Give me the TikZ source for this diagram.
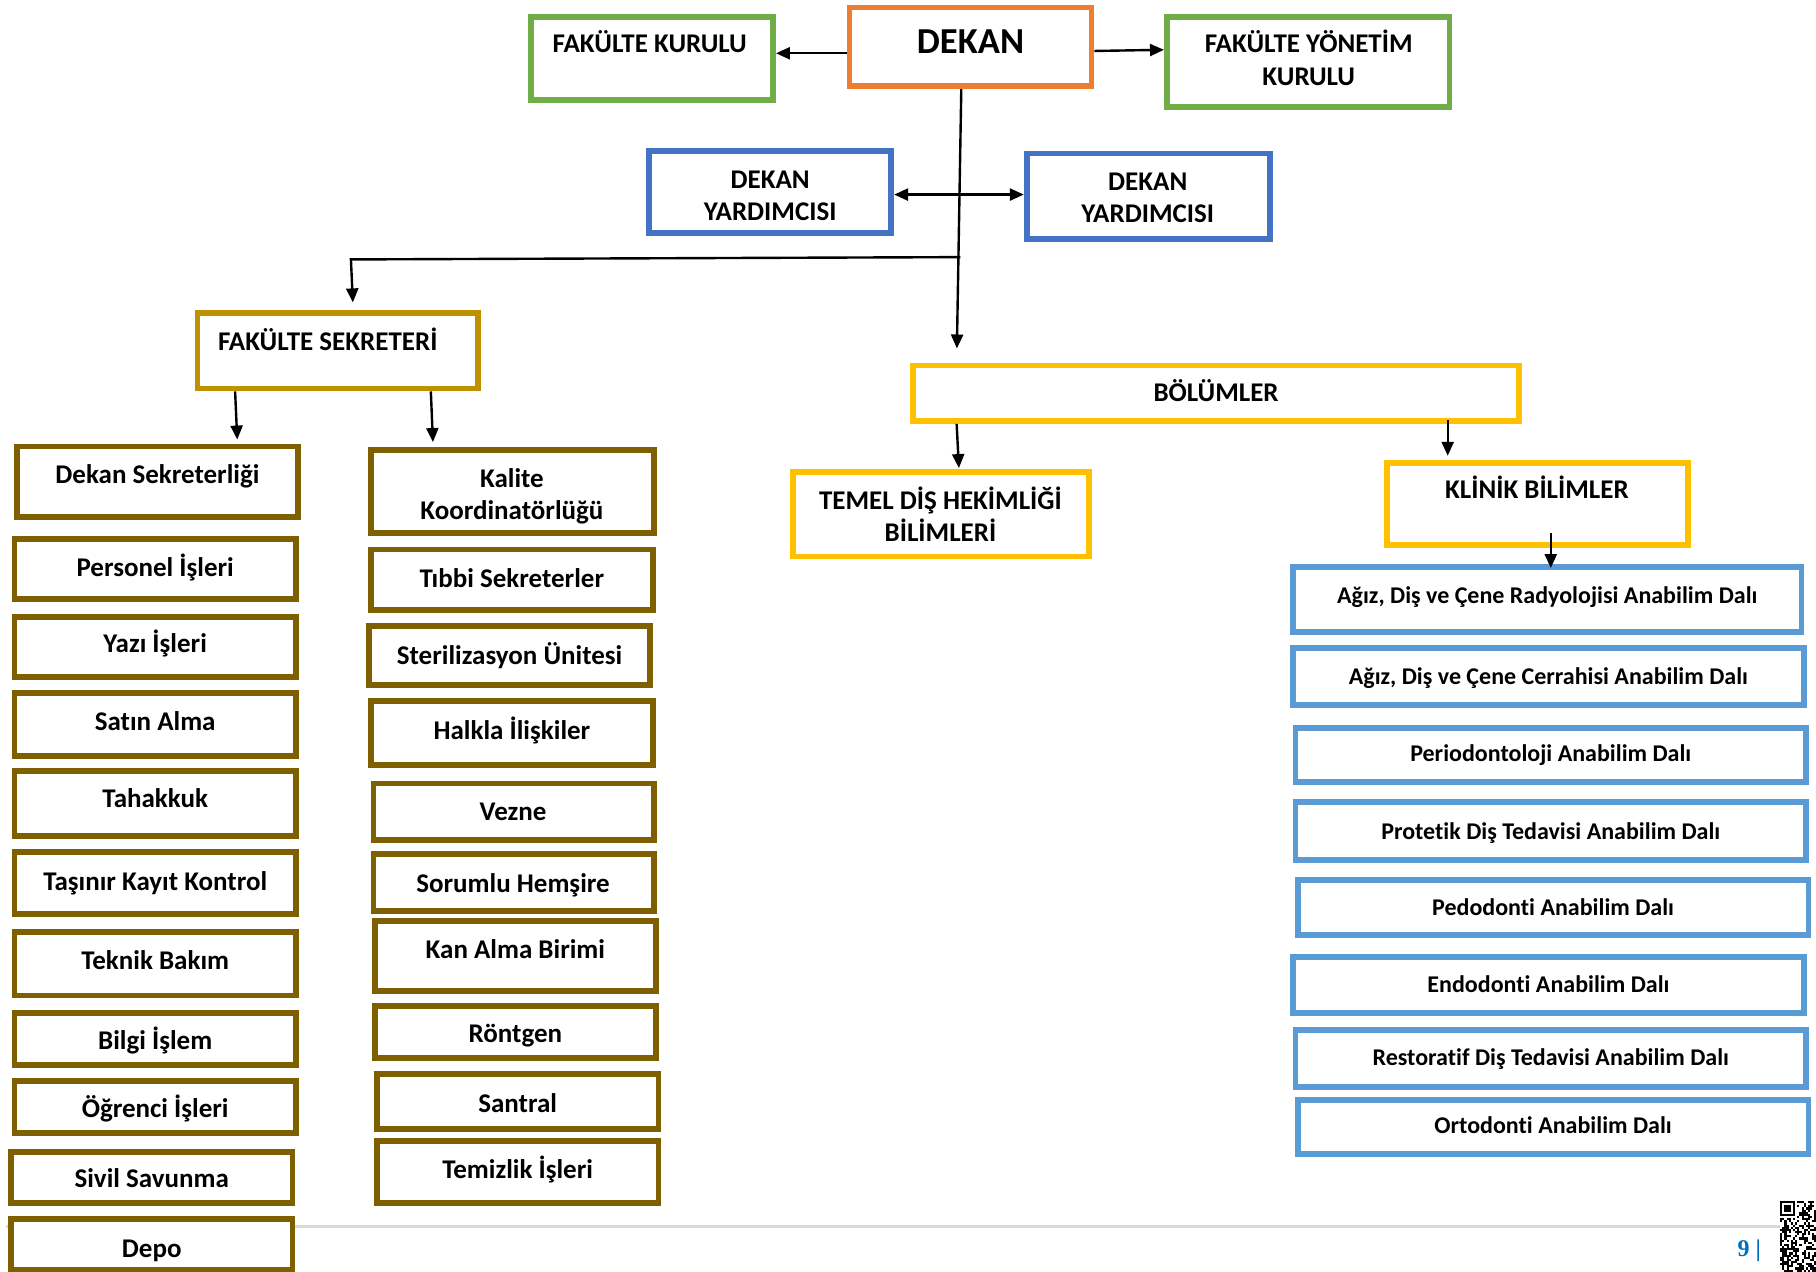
\documentclass[tikz,border=0pt]{standalone}
\usepackage{fontspec}
\setmainfont{Carlito}[Ligatures={NoCommon}]
\newfontfamily\pgnumfont{Liberation Serif}
\usetikzlibrary{arrows.meta,fit}
\definecolor{cgreen}{HTML}{70AD47}
\definecolor{corange}{HTML}{ED7D31}
\definecolor{cdblue}{HTML}{4472C4}
\definecolor{clblue}{HTML}{5B9BD5}
\definecolor{cyellow}{HTML}{FFC000}
\definecolor{cgold}{HTML}{BF9000}
\definecolor{cbrown}{HTML}{7F6000}
\definecolor{cpage}{HTML}{0070C0}
\definecolor{cfoot}{HTML}{D9D9D9}
\begin{document}
\begin{tikzpicture}[x=0.5791pt,y=-0.5791pt,
 box/.style={rectangle, line width=2.9pt, fill=white, inner sep=-1.45pt, draw=#1},
 txt/.style={anchor=base, inner sep=0, font=\fontsize{13.5}{16}\selectfont\bfseries, yshift=-4.35pt},
 txts/.style={anchor=base, inner sep=0, font=\fontsize{12}{15}\selectfont\bfseries, yshift=-3.9pt},
 txtbig/.style={anchor=base, inner sep=0, font=\fontsize{18.3}{22}\selectfont\bfseries, yshift=-5.9pt},
 arr/.style={line width=1.2pt, -{Triangle[length=7pt,width=6pt]}},
 darr/.style={line width=1.2pt, {Triangle[length=7pt,width=6pt]}-{Triangle[length=7pt,width=6pt]}},
]
\useasboundingbox (0,0) rectangle (1568,1098);
\fill[white] (0,0) rectangle (1568,1098);

% footer line
\draw[cfoot, line width=1.2pt] (5,1059) -- (1537,1059);

% top level
\node[box=cgreen, fit={(456,12) (670,89)}] (fk) {};
\node[txt] (fk-t) at (561,38) {FAKÜLTE KURULU};
\node[box=corange, fit={(731,4) (945,77)}] (dekan) {};
\node[txtbig] (dekan-t) at (838,36) {DEKAN};
\node[box=cgreen, fit={(1005,12) (1254,95)}] (fyk) {};
\node[txt] (fyk-t1) at (1130,38) {FAKÜLTE YÖNETİM};
\node[txt] (fyk-t2) at (1130,66) {KURULU};

\node[box=cdblue, fit={(558,128) (772,204)}] (dy1) {};
\node[txt] (dy1-t1) at (665,155) {DEKAN};
\node[txt] (dy1-t2) at (665,183) {YARDIMCISI};
\node[box=cdblue, fit={(884,130) (1099,209)}] (dy2) {};
\node[txt] (dy2-t1) at (991,157) {DEKAN};
\node[txt] (dy2-t2) at (991,185) {YARDIMCISI};

\node[box=cgold, fit={(168,268) (415,338)}] (fs) {};
\node[txt] (fs-t) at (283,295) {FAKÜLTE SEKRETERİ};

\node[box=cyellow, fit={(786,313) (1314,366)}] (bol) {};
\node[txt] (bol-t) at (1050,339) {BÖLÜMLER};
\node[box=cyellow, fit={(682,405) (943,483)}] (temel) {};
\node[txt] (temel-t1) at (812,432) {TEMEL DİŞ HEKİMLİĞİ};
\node[txt] (temel-t2) at (812,460) {BİLİMLERİ};
\node[box=cyellow, fit={(1195,397) (1460,473)}] (klinik) {};
\node[txt] (klinik-t) at (1327,423) {KLİNİK BİLİMLER};

% left column
\node[box=cbrown, fit={(12,383) (260,449)}] (L1) {};
\node[txt] (L1-t) at (136,410) {Dekan Sekreterliği};
\node[box=cbrown, fit={(10,463) (258,520)}] (L2) {};
\node[txt] (L2-t) at (134,490) {Personel İşleri};
\node[box=cbrown, fit={(10,530) (258,587)}] (L3) {};
\node[txt] (L3-t) at (134,556) {Yazı İşleri};
\node[box=cbrown, fit={(10,596) (258,655)}] (L4) {};
\node[txt] (L4-t) at (134,623) {Satın Alma};
\node[box=cbrown, fit={(10,663) (258,724)}] (L5) {};
\node[txt] (L5-t) at (134,690) {Tahakkuk};
\node[box=cbrown, fit={(10,733) (258,792)}] (L6) {};
\node[txt] (L6-t) at (134,761) {Taşınır Kayıt Kontrol};
\node[box=cbrown, fit={(10,802) (258,862)}] (L7) {};
\node[txt] (L7-t) at (134,830) {Teknik Bakım};
\node[box=cbrown, fit={(10,872) (258,922)}] (L8) {};
\node[txt] (L8-t) at (134,899) {Bilgi İşlem};
\node[box=cbrown, fit={(10,931) (258,981)}] (L9) {};
\node[txt] (L9-t) at (134,957) {Öğrenci İşleri};
\node[box=cbrown, fit={(7,992) (255,1041)}] (L10) {};
\node[txt] (L10-t) at (131,1018) {Sivil Savunma};
\node[box=cbrown, fit={(7,1050) (255,1099)}] (L11) {};
\node[txt] (L11-t) at (131,1078) {Depo};

% middle column
\node[box=cbrown, fit={(318,386) (567,463)}] (M1) {};
\node[txt] (M1-t1) at (442,413) {Kalite};
\node[txt] (M1-t2) at (442,441) {Koordinatörlüğü};
\node[box=cbrown, fit={(318,472) (566,529)}] (M2) {};
\node[txt] (M2-t) at (442,500) {Tıbbi Sekreterler};
\node[box=cbrown, fit={(316,538) (564,594)}] (M3) {};
\node[txt] (M3-t) at (440,566) {Sterilizasyon Ünitesi};
\node[box=cbrown, fit={(318,603) (566,663)}] (M4) {};
\node[txt] (M4-t) at (442,631) {Halkla İlişkiler};
\node[box=cbrown, fit={(320,674) (567,728)}] (M5) {};
\node[txt] (M5-t) at (443,701) {Vezne};
\node[box=cbrown, fit={(320,735) (567,789)}] (M6) {};
\node[txt] (M6-t) at (443,763) {Sorumlu Hemşire};
\node[box=cbrown, fit={(321,793) (569,858)}] (M7) {};
\node[txt] (M7-t) at (445,820) {Kan Alma Birimi};
\node[box=cbrown, fit={(321,866) (569,916)}] (M8) {};
\node[txt] (M8-t) at (445,893) {Röntgen};
\node[box=cbrown, fit={(323,925) (571,977)}] (M9) {};
\node[txt] (M9-t) at (447,953) {Santral};
\node[box=cbrown, fit={(323,983) (571,1041)}] (M10) {};
\node[txt] (M10-t) at (447,1010) {Temizlik İşleri};

% right column
\node[box=clblue, fit={(1114,487) (1558,548)}] (R1) {};
\node[txts] (R1-t) at (1336,514) {Ağız, Diş ve Çene Radyolojisi Anabilim Dalı};
\node[box=clblue, fit={(1114,557) (1560,611)}] (R2) {};
\node[txts] (R2-t) at (1337,584) {Ağız, Diş ve Çene Cerrahisi Anabilim Dalı};
\node[box=clblue, fit={(1116,626) (1562,678)}] (R3) {};
\node[txts] (R3-t) at (1339,651) {Periodontoloji Anabilim Dalı};
\node[box=clblue, fit={(1116,690) (1562,745)}] (R4) {};
\node[txts] (R4-t) at (1339,718) {Protetik Diş Tedavisi Anabilim Dalı};
\node[box=clblue, fit={(1118,757) (1564,810)}] (R5) {};
\node[txts] (R5-t) at (1341,784) {Pedodonti Anabilim Dalı};
\node[box=clblue, fit={(1114,824) (1560,877)}] (R6) {};
\node[txts] (R6-t) at (1337,850) {Endodonti Anabilim Dalı};
\node[box=clblue, fit={(1116,887) (1562,941)}] (R7) {};
\node[txts] (R7-t) at (1339,913) {Restoratif Diş Tedavisi Anabilim Dalı};
\node[box=clblue, fit={(1118,947) (1564,999)}] (R8) {};
\node[txts] (R8-t) at (1341,972) {Ortodonti Anabilim Dalı};

% connectors
\draw[arr] (dekan.west |- 0,46) -- (fk.east |- 0,46);
\draw[arr] (dekan.east |- 0,44) -- (fyk.west |- 0,43);
\draw[darr] (dy1.east |- 0,168) -- (dy2.west |- 0,168);
\draw[arr, shorten >=7pt] (dekan.south -| 830,0) -- (bol.north -| 826,0);
\coordinate (j1) at (829.2,222);
\coordinate (c1) at (303,224);
\draw[arr, shorten >=4pt] (j1) -- (c1) -- (fs.north -| 305,0);
\draw[arr, shorten >=2pt] (fs.south -| 203,0) -- (L1.north -| 205,0);
\draw[arr, shorten >=2.5pt] (fs.south -| 372,0) -- (M1.north -| 374,0);
\draw[arr, shorten >=0.5pt] (bol.south -| 826,0) -- (temel.north -| 828,0);
\draw[arr, shorten >=2pt] (bol.south -| 1250,0) ++(0,-3) -- (klinik.north -| 1250,0);
\draw[arr, shorten >=-2pt] (klinik.south -| 1339,0) ++(0,-13) -- (R1.north -| 1339,0);

% page number
\node[anchor=base west, inner sep=0, text=cpage, font=\pgnumfont\fontsize{12}{14}\selectfont\bfseries] (pg) at (1500,1085) {9 |};

% QR code
\pgfmathsetseed{12}
\foreach \i in {0,...,16}{
  \foreach \j in {0,...,32}{
    \pgfmathrandominteger{\r}{0}{1}
    \pgfmathtruncatemacro\skipme{(\i<8)&&(\j<8)}
    \ifnum\skipme=0
      \ifnum\r=1
        \fill[black] (1537+\i*1.85,1037+\j*1.85) rectangle ++(1.85,1.85);
      \fi
    \fi
  }
}
\fill[black] (1537,1037) rectangle ++(12.95,12.95);
\fill[white] (1538.85,1038.85) rectangle ++(9.25,9.25);
\fill[black] (1540.7,1040.7) rectangle ++(5.55,5.55);
\end{tikzpicture}
\end{document}
